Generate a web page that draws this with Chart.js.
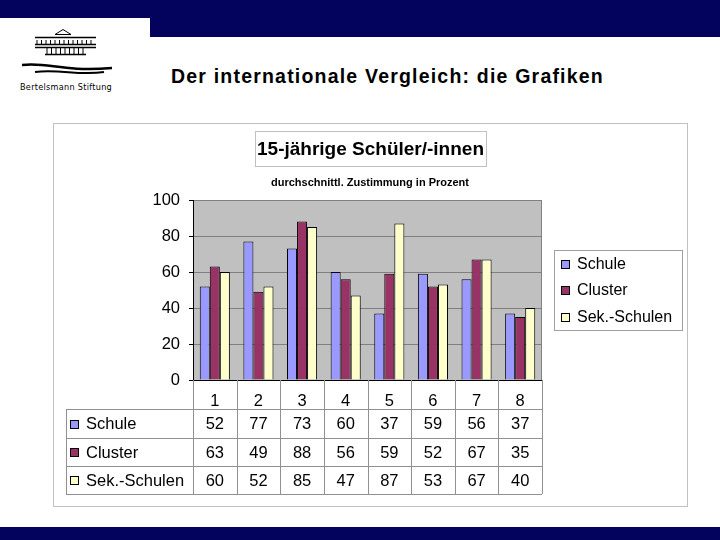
<!DOCTYPE html>
<html>
<head>
<meta charset="utf-8">
<script src="https://cdn.jsdelivr.net/npm/chart.js@4"></script>
<style>
  body { margin: 0; background: #fff; font-family: 'Liberation Sans', Arial, sans-serif; }
  #wrap { position: relative; width: 720px; height: 540px; overflow: hidden; }
  .navy { position: absolute; background: #03035e; }
  #titel { position: absolute; left: 171px; top: 66px; font-size: 19.5px; line-height: 20px; font-weight: bold; letter-spacing: 1.2px; color: #000; white-space: nowrap; }
  #logoText { position: absolute; left: 20px; top: 82px; font-family: 'DejaVu Sans Condensed', 'DejaVu Sans', sans-serif; font-size: 9px; letter-spacing: 0.3px; color: #000; white-space: nowrap; }
  canvas { position: absolute; left: 0; top: 0; }
</style>
</head>
<body>
<div id="wrap">
  <div class="navy" style="left:0;top:0;width:720px;height:18px"></div>
  <div class="navy" style="left:150px;top:0;width:570px;height:37px"></div>
  <div class="navy" style="left:0;top:527px;width:720px;height:13px"></div>
  <div id="logoText">Bertelsmann Stiftung</div>
  <div id="titel">Der internationale Vergleich: die Grafiken</div>
  <canvas id="barChart" width="720" height="540"></canvas>
</div>
<script>
// Daten
const kategorien = ['1', '2', '3', '4', '5', '6', '7', '8'];
const schule = [52, 77, 73, 60, 37, 59, 56, 37];
const cluster = [63, 49, 88, 56, 59, 52, 67, 35];
const sekSchulen = [60, 52, 85, 47, 87, 53, 67, 40];
const serien = ['Schule', 'Cluster', 'Sek.-Schulen'];
const farben = ['#9999ff', '#993366', '#ffffcc'];
const diagrammTitel = '15-jährige Schüler/-innen';
const untertitel = 'durchschnittl. Zustimmung in Prozent';

const werte = [schule, cluster, sekSchulen];
const schrift = "'Liberation Sans', Arial, sans-serif";

function kaestchen(ctx, x, y, farbe) {
  ctx.fillStyle = farbe;
  ctx.fillRect(x, y, 9, 9);
  ctx.strokeStyle = '#000';
  ctx.lineWidth = 1;
  ctx.strokeRect(x + 0.5, y + 0.5, 8, 8);
}

/* Folie: Rahmen, Logo, Tabelle, Legende */
const foliePlugin = {
  id: 'folie',
  beforeDraw(chart) {
    const ctx = chart.ctx;
    const a = chart.chartArea;
    ctx.save();
    // aeusserer Rahmen
    ctx.strokeStyle = '#c0c0c0';
    ctx.lineWidth = 1;
    ctx.strokeRect(53.5, 123.5, 634, 383);
    // Zeichenflaeche
    ctx.fillStyle = '#c0c0c0';
    ctx.fillRect(a.left, a.top, a.right - a.left, a.bottom - a.top);
    ctx.strokeStyle = '#808080';
    ctx.strokeRect(a.left + 0.5, a.top + 0.5, a.right - a.left - 1, a.bottom - a.top);

    // Logo (grob)
    ctx.strokeStyle = '#000';
    ctx.lineWidth = 1;
    ctx.beginPath();
    ctx.moveTo(55, 34.5); ctx.lineTo(63, 29.5); ctx.lineTo(71, 34.5); ctx.closePath();
    ctx.stroke();
    ctx.lineWidth = 1.5;
    [37.5, 44.5, 47.5, 54.5].forEach((y, i) => {
      ctx.beginPath();
      ctx.moveTo(i == 3 ? 45 : 35, y); ctx.lineTo(i == 3 ? 86 : 96, y);
      ctx.stroke();
    });
    ctx.lineWidth = 1;
    for (let x = 37; x <= 94; x += 4.5) {
      ctx.beginPath(); ctx.moveTo(x, 40); ctx.lineTo(x, 44); ctx.stroke();
    }
    for (let x = 47; x <= 84; x += 4.5) {
      ctx.beginPath(); ctx.moveTo(x, 48); ctx.lineTo(x, 54); ctx.stroke();
    }
    ctx.lineWidth = 2.5;
    ctx.beginPath();
    ctx.moveTo(22, 65); ctx.bezierCurveTo(50, 62, 60, 72, 112, 68);
    ctx.stroke();
    ctx.lineWidth = 2;
    ctx.beginPath();
    ctx.moveTo(35, 72); ctx.bezierCurveTo(60, 69, 80, 76, 104, 72);
    ctx.stroke();
    ctx.restore();
  },
  afterDraw(chart) {
    const ctx = chart.ctx;
    const a = chart.chartArea;
    const xs = chart.scales.x;
    const breite = (a.right - a.left) / kategorien.length;
    const zeilen = [409, 438, 466, 494];
    ctx.save();

    // Tabelle
    ctx.strokeStyle = '#909090';
    ctx.lineWidth = 1;
    zeilen.forEach(y => {
      ctx.beginPath();
      ctx.moveTo(66, y + 0.5); ctx.lineTo(a.right, y + 0.5);
      ctx.stroke();
    });
    ctx.beginPath();
    ctx.moveTo(66.5, zeilen[0]); ctx.lineTo(66.5, zeilen[3]);
    ctx.stroke();
    for (let k = 0; k <= kategorien.length; k++) {
      const x = Math.round(a.left + k * breite) + 0.5;
      ctx.beginPath();
      ctx.moveTo(x, a.bottom); ctx.lineTo(x, zeilen[3]);
      ctx.stroke();
    }
    ctx.font = '16.5px ' + schrift;
    ctx.textBaseline = 'middle';
    werte.forEach((reihe, r) => {
      const ym = (zeilen[r] + zeilen[r + 1]) / 2 + 1;
      kaestchen(ctx, 70, Math.round(ym - 5), farben[r]);
      ctx.fillStyle = '#000';
      ctx.textAlign = 'left';
      ctx.fillText(serien[r], 86, ym);
      ctx.textAlign = 'center';
      reihe.forEach((v, i) => ctx.fillText(String(v), xs.getPixelForValue(i), ym));
    });

    // Legende
    ctx.strokeStyle = '#a0a0a0';
    ctx.strokeRect(554.5, 250.5, 128, 80);
    ctx.font = '16px ' + schrift;
    ctx.textAlign = 'left';
    [265, 291, 318].forEach((y, r) => {
      kaestchen(ctx, 561, y - 5, farben[r]);
      ctx.fillStyle = '#000';
      ctx.fillText(serien[r], 577, y);
    });

    // Titel
    ctx.strokeStyle = '#c0c0c0';
    ctx.strokeRect(255.5, 131.5, 231, 35);
    ctx.fillStyle = '#000';
    ctx.textAlign = 'center';
    ctx.font = 'bold 19px ' + schrift;
    ctx.fillText(diagrammTitel, 370.5, 150);
    ctx.font = 'bold 11px ' + schrift;
    ctx.fillText(untertitel, 370, 183);
    ctx.restore();
  }
};

const ctxBar = document.getElementById('barChart').getContext('2d');

const barChart = new Chart(ctxBar, {
  type: 'bar',
  data: {
    labels: kategorien,
    datasets: serien.map((name, i) => ({
      label: name,
      data: werte[i],
      backgroundColor: farben[i],
      borderColor: '#000',
      borderWidth: 1,
      borderSkipped: 'bottom'
    }))
  },
  options: {
    responsive: false,
    animation: false,
    categoryPercentage: 0.69,
    barPercentage: 1.0,
    layout: {
      padding: { left: 148, right: 178, top: 200, bottom: 130 }
    },
    plugins: {
      legend: { display: false },
      tooltip: { enabled: false }
    },
    scales: {
      x: {
        afterFit: s => { s.height = 30; },
        grid: { display: false },
        border: { display: true, color: '#000' },
        ticks: { color: '#000', padding: 4, font: { family: schrift, size: 16.5 } }
      },
      y: {
        min: 0,
        max: 100,
        afterFit: s => { s.width = 45; },
        grid: { color: '#808080', tickLength: 4, tickColor: '#000' },
        border: { display: true, color: '#000' },
        ticks: { stepSize: 20, color: '#000', padding: 9, font: { family: schrift, size: 16.5 } }
      }
    }
  },
  plugins: [foliePlugin]
});
</script>
</body>
</html>
